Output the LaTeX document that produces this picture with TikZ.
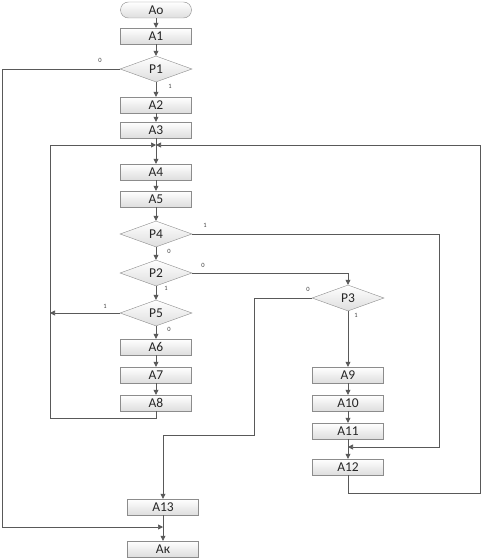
\documentclass[tikz,border=0pt]{standalone}
\usepackage{fontspec}
\setmainfont{Carlito}
\usetikzlibrary{shapes.geometric,arrows.meta}
\begin{document}
\begin{tikzpicture}[x=1pt,y=-1pt,
  blk/.style={rectangle,draw=black!45,top color=white,bottom color=black!13,minimum width=71pt,minimum height=16pt,inner sep=0pt,font=\fontsize{13.5}{13.5}\selectfont,text=black!85},
  term/.style={blk,rounded corners=8pt},
  dec/.style={diamond,draw=black!45,top color=white,bottom color=black!13,minimum width=72pt,minimum height=26pt,inner sep=0pt,aspect=2.8,font=\fontsize{13.5}{13.5}\selectfont,text=black!85},
  con/.style={draw=black!65,line width=0.7pt},
  arr/.style={con,-{Triangle[width=5pt,length=5pt]}},
  lbl/.style={font=\fontsize{6.5}{6.5}\selectfont,text=black!75,inner sep=0pt}]
\useasboundingbox (0,0) rectangle (482,559);
% main column
\node[term] (a0) at (156,10) {Ао};
\node[blk] (a1) at (156,36) {A1};
\node[dec] (p1) at (156,69) {P1};
\node[blk] (a2) at (156,105) {A2};
\node[blk] (a3) at (156,130) {A3};
\node[blk] (a4) at (156,172) {A4};
\node[blk] (a5) at (156,199) {A5};
\node[dec] (p4) at (156,234) {P4};
\node[dec] (p2) at (156,273) {P2};
\node[dec] (p5) at (156,313) {P5};
\node[blk] (a6) at (156,347) {A6};
\node[blk] (a7) at (156,375) {A7};
\node[blk] (a8) at (156,403) {A8};
% right column
\node[dec] (p3) at (348,298) {P3};
\node[blk] (a9) at (348,375) {A9};
\node[blk] (a10) at (348,403) {A10};
\node[blk] (a11) at (348,431) {A11};
\node[blk] (a12) at (348,467) {A12};
% bottom
\node[blk] (a13) at (163,507) {A13};
\node[blk] (ak) at (163,549) {Ак};
% junctions
\coordinate (j1) at (156,145);
\coordinate (j2) at (163,527);
\coordinate (j3) at (348,447);
% straight arrows
\draw[arr] (a0) -- (a1);
\draw[arr] (a1) -- (p1);
\draw[arr] (p1) -- (a2);
\draw[arr] (a2) -- (a3);
\draw[arr] (a3) -- (a4);
\draw[arr] (a4) -- (a5);
\draw[arr] (a5) -- (p4);
\draw[arr] (p4) -- (p2);
\draw[arr] (p2) -- (p5);
\draw[arr] (p5) -- (a6);
\draw[arr] (a6) -- (a7);
\draw[arr] (a7) -- (a8);
\draw[arr] (p3) -- (a9);
\draw[arr] (a9) -- (a10);
\draw[arr] (a10) -- (a11);
\draw[arr] (a11) -- (a12);
\draw[arr] (a13) -- (ak);
% branches
\draw[arr] (p1.west) -- (2,69) -- (2,527) -- (j2);
\draw[arr] (a8.south) -- (156,418) -- (50,418) -- (50,145) -- (j1);
\draw[arr] (a12.south) -- (348,493) -- (480,493) -- (480,145) -- (j1);
\draw[arr] (p4.east) -- (439,234) -- (439,447) -- (j3);
\draw[arr] (p2.east) -- (348,273) -- (p3.north);
\draw[arr] (p5.west) -- (50,313);
\draw[arr] (p3.west) -- (254,298) -- (254,435) -- (163,435) -- (a13.north);
% labels
\node[lbl] (l1) at (100,60) {0};
\node[lbl] (l2) at (170,86) {1};
\node[lbl] (l3) at (205,225) {1};
\node[lbl] (l4) at (169,251) {0};
\node[lbl] (l5) at (203,265) {0};
\node[lbl] (l6) at (166,288) {1};
\node[lbl] (l7) at (105,306) {1};
\node[lbl] (l8) at (169,329) {0};
\node[lbl] (l9) at (308,289) {0};
\node[lbl] (l10) at (356,315) {1};
\end{tikzpicture}
\end{document}
